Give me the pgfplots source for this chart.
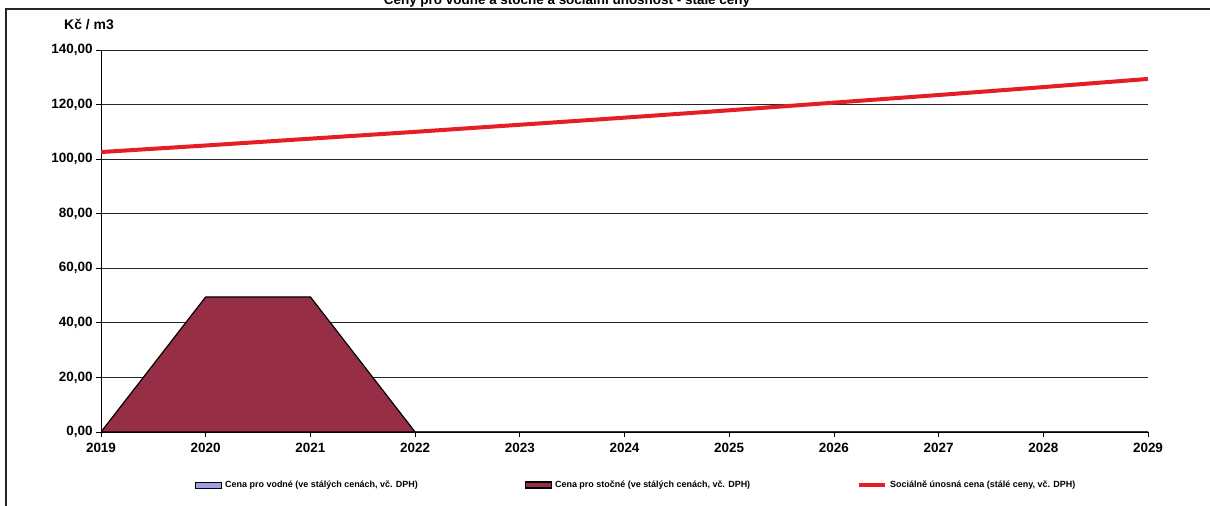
\documentclass[border=0pt]{standalone}
\usepackage{pgfplots}
\pgfplotsset{compat=1.18}
\usepackage{fontspec}
\setmainfont{Liberation Sans}
\definecolor{stoc}{RGB}{150,46,70}
\definecolor{vod}{RGB}{160,160,230}
\definecolor{soc}{RGB}{228,30,36}
\pgfplotsset{
  rectlegend/.style={legend image code/.code={\draw[##1] (0bp,-3bp) rectangle (26bp,3bp);}},
  linelegend/.style={legend image code/.code={\draw[##1] (0bp,0bp) -- (26bp,0bp);}},
}
\begin{document}
\begin{tikzpicture}[x=1bp,y=1bp]
\useasboundingbox (0,0) rectangle (1210,506);
\draw[line width=1.2bp, black!85] (6,-20) -- (6,497) -- (1230,497);
\node[font=\bfseries\fontsize{13.5}{16}\selectfont, anchor=base] at (567,501) {Ceny pro vodné a stočné a sociální únosnost - stálé ceny};
\node[font=\bfseries\fontsize{14}{16}\selectfont] at (89,482) {Kč / m3};
\begin{axis}[
  at={(101bp,74bp)}, anchor=south west, scale only axis,
  width=1047bp, height=382bp,
  xmin=2019, xmax=2029, ymin=0, ymax=140,
  xtick={2019,2020,...,2029}, ytick={0,20,...,140},
  axis lines*=left,
  axis line style={black, line width=0.9bp},
  ymajorgrids, grid style={black!85, line width=0.8bp},
  tick align=outside, major tick length=5bp,
  tick style={black, line width=0.8bp},
  /pgf/number format/assume math mode=true,
  tick label style={font=\bfseries\fontsize{13.5}{16}\selectfont},
  xticklabel style={/pgf/number format/1000 sep={}, yshift=-3bp},
  yticklabel style={/pgf/number format/.cd, fixed, fixed zerofill, precision=2, use comma},
  legend columns=3,
  legend style={draw=none, fill=none, inner sep=0pt,
    at={(0.0898,-0.139)}, anchor=west,
    font=\bfseries\fontsize{9}{11}\selectfont,
    /tikz/every odd column/.append style={column sep=1bp},
    /tikz/every even column/.append style={column sep=105bp}},
]
\addplot[fill=vod, draw=black, line width=1bp, rectlegend]
  coordinates {(2019,0) (2020,0) (2021,0) (2022,0) (2023,0) (2024,0) (2025,0) (2026,0) (2027,0) (2028,0) (2029,0)} \closedcycle;
\addlegendentry{Cena pro vodné (ve stálých cenách, vč. DPH)}
\addplot[fill=stoc, draw=black, line width=1.2bp, rectlegend]
  coordinates {(2019,0) (2020,49.5) (2021,49.5) (2022,0) (2023,0) (2024,0) (2025,0) (2026,0) (2027,0) (2028,0) (2029,0)} \closedcycle;
\addlegendentry{Cena pro stočné (ve stálých cenách, vč. DPH)}
\addplot[soc, line width=4bp, linelegend]
  coordinates {(2019,102.6) (2020,105.0) (2021,107.5) (2022,110.0) (2023,112.6) (2024,115.2) (2025,117.9) (2026,120.7) (2027,123.5) (2028,126.4) (2029,129.4)};
\addlegendentry{Sociálně únosná cena (stálé ceny, vč. DPH)}
\end{axis}
\end{tikzpicture}
\end{document}
